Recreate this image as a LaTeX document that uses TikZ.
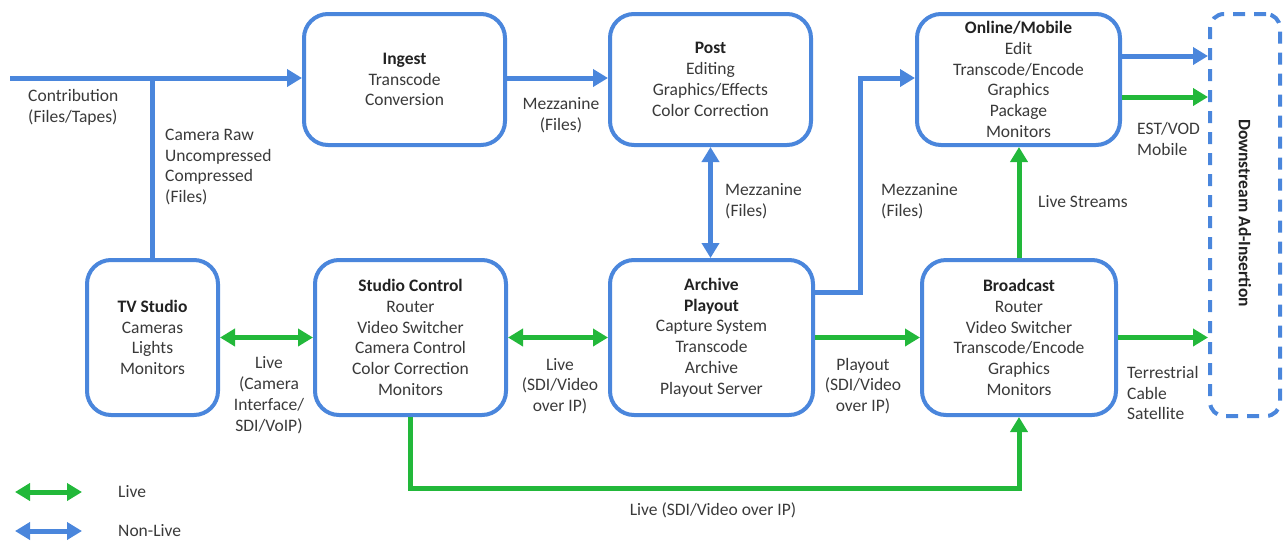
\documentclass[tikz,border=0pt]{standalone}
\usepackage{fontspec}
\setmainfont{Carlito}
\usetikzlibrary{arrows.meta,calc}
\definecolor{nlblue}{HTML}{4A86DC}
\definecolor{lvgreen}{HTML}{22B83A}
\definecolor{txt}{HTML}{3A3A3A}
\definecolor{ttl}{HTML}{222222}
\begin{document}
\begin{tikzpicture}[x=1pt,y=-1pt,
  font=\fontsize{17.5}{20.8}\selectfont, text=txt,
  >={Triangle[length=15pt,width=17pt]},
  box/.style={draw=nlblue, line width=4pt, rounded corners=24pt, fill=white, align=center, inner sep=0pt},
  nl/.style={draw=nlblue, line width=5pt},
  lv/.style={draw=lvgreen, line width=5pt},
  lbl/.style={align=left, inner sep=0pt, anchor=west},
  clbl/.style={align=center, inner sep=0pt},
  ttlfont/.style={}]
\useasboundingbox (0,0) rectangle (1286,542);
% helper rows
\coordinate (y56) at (0,56);
\coordinate (y78) at (0,78);
\coordinate (y97) at (0,97);
\coordinate (y292) at (0,292);
\coordinate (y488) at (0,488);
\coordinate (x860) at (860,0);
% boxes
\node[box, minimum width=201, minimum height=131] (ingest) at (404.5,79.5)
  {\textcolor{ttl}{\textbf{Ingest}}\\Transcode\\Conversion};
\node[box, minimum width=201, minimum height=131] (post) at (710.5,79.5)
  {\textcolor{ttl}{\textbf{Post}}\\Editing\\Graphics/Effects\\Color Correction};
\node[box, minimum width=203, minimum height=131] (online) at (1018.5,79.5)
  {\textcolor{ttl}{\textbf{Online/Mobile}}\\Edit\\Transcode/Encode\\Graphics\\Package\\Monitors};
\node[box, minimum width=131, minimum height=155] (tv) at (152.5,337.5)
  {\textcolor{ttl}{\textbf{TV Studio}}\\Cameras\\Lights\\Monitors};
\node[box, minimum width=191, minimum height=155] (sc) at (410.5,337.5)
  {\textcolor{ttl}{\textbf{Studio Control}}\\Router\\Video Switcher\\Camera Control\\Color Correction\\Monitors};
\node[box, minimum width=203, minimum height=155] (arch) at (711.5,337.5)
  {\textcolor{ttl}{\textbf{Archive}}\\\textcolor{ttl}{\textbf{Playout}}\\Capture System\\Transcode\\Archive\\Playout Server};
\node[box, minimum width=194, minimum height=155] (bc) at (1019,337.5)
  {\textcolor{ttl}{\textbf{Broadcast}}\\Router\\Video Switcher\\Transcode/Encode\\Graphics\\Monitors};
\node[draw=nlblue, line width=4pt, dash pattern=on 12pt off 9pt, rounded corners=14pt,
  minimum width=70, minimum height=402, inner sep=0pt] (ds) at (1245,215) {};
\node[rotate=-90, inner sep=0pt, text=ttl, font=\fontsize{17.5}{20.8}\selectfont\bfseries] (dslbl) at (1245,213) {Downstream Ad-Insertion};
% non-live connectors
\coordinate (cin) at (10,78);
\coordinate (br) at (152.5,78);
\draw[nl,->] (cin) -- (cin -| ingest.west);
\draw[nl] (br) -- (br |- tv.north);
\draw[nl,->] (ingest.east |- y78) -- (post.west |- y78);
\draw[nl,<->] (post.south) -- (post.south |- arch.north);
\draw[nl,->] (arch.east |- y292) -- (x860 |- y292) -- (x860 |- y78) -- (online.west |- y78);
\draw[nl,->] (online.east |- y56) -- (ds.west |- y56);
% live connectors
\draw[lv,->] (online.east |- y97) -- (ds.west |- y97);
\draw[lv,<->] (tv.east) -- (sc.west);
\draw[lv,<->] (sc.east) -- (arch.west);
\draw[lv,->] (arch.east) -- (bc.west);
\draw[lv,->] (bc.east) -- (ds.west |- bc.east);
\draw[lv,->] (bc.north) -- (bc.north |- online.south);
\draw[lv,->] (sc.south) -- (sc.south |- y488) -- (bc.south |- y488) -- (bc.south);
% labels
\node[lbl] (l1) at (28,107.5) {Contribution\\(Files/Tapes)};
\node[lbl] (l2) at (165,167) {Camera Raw\\Uncompressed\\Compressed\\(Files)};
\node[clbl] (l3) at (561,115) {Mezzanine\\(Files)};
\node[lbl] (l4) at (725,201) {Mezzanine\\(Files)};
\node[lbl] (l5) at (881,201) {Mezzanine\\(Files)};
\node[lbl] (l6) at (1137,139) {EST/VOD\\Mobile};
\node[lbl] (l7) at (1038,202) {Live Streams};
\node[clbl] (l8) at (269,395) {Live\\(Camera\\Interface/\\SDI/VoIP)};
\node[clbl] (l9) at (560,386) {Live\\(SDI/Video\\over IP)};
\node[clbl] (l10) at (863,386) {Playout\\(SDI/Video\\over IP)};
\node[lbl] (l11) at (1127,393) {Terrestrial\\Cable\\Satellite};
\node[clbl] (l12) at (713,510) {Live (SDI/Video over IP)};
% legend
\coordinate (g1) at (15,492);
\coordinate (g2) at (82,492);
\coordinate (b1) at (15,531);
\coordinate (b2) at (82,531);
\draw[lv,<->] (g1) -- (g2);
\draw[nl,<->] (b1) -- (b2);
\node[lbl] (lg1) at (118,492) {Live};
\node[lbl] (lg2) at (118,531) {Non-Live};
\end{tikzpicture}
\end{document}
